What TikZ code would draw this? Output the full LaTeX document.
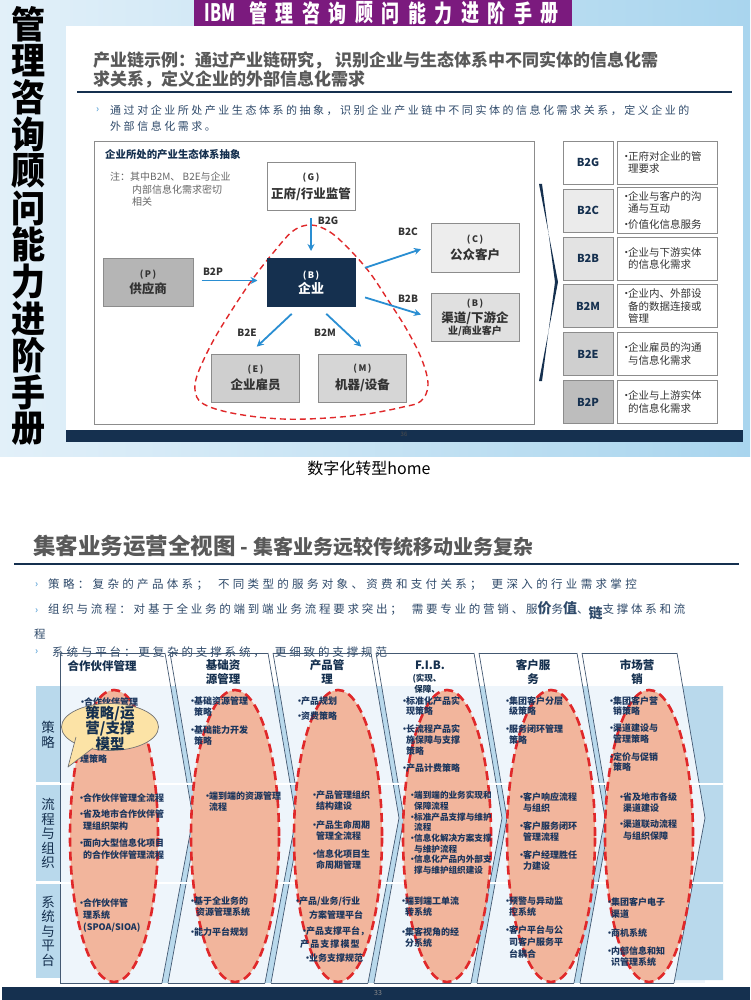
\documentclass[tikz,border=0pt]{standalone}
\usepackage{fontspec}
\setmainfont{Noto Sans CJK SC}
\usetikzlibrary{arrows.meta,shapes.geometric}

\definecolor{navy}{HTML}{15304F}
\definecolor{ibmpurple}{HTML}{7B1A7E}
\definecolor{arrblue}{HTML}{2A8ED2}
\definecolor{dashred}{HTML}{E0282A}
\definecolor{salmon}{HTML}{F2B59C}
\definecolor{bandblue}{HTML}{B9D9EC}
\definecolor{bodyblue}{HTML}{EEF5FB}
\definecolor{calloutyellow}{RGB}{252,227,166}
\definecolor{bgleft}{HTML}{E2F0F9}
\definecolor{bgright}{HTML}{A9D5EE}
\definecolor{ttlgrey}{HTML}{595959}
\definecolor{darktxt}{HTML}{333333}
\definecolor{boxline}{HTML}{8C8C8C}
\definecolor{bodytxt}{HTML}{1B365D}
\definecolor{noteblue}{HTML}{2F4A6A}
\definecolor{tickblue}{HTML}{3A90D0}

\newcommand\fsz[2]{\fontsize{#1}{#2}\selectfont}
\newcommand\bpt{\makebox[6pt][l]{·}}
\newcommand\tind{\hspace*{6pt}}
\newcommand\bul{\makebox[7pt][l]{•}}
\newcommand\dind{\hspace*{7pt}}

\begin{document}
\begin{tikzpicture}[x=1pt,y=-1pt,
  bigch/.style={font=\bfseries\fsz{37}{37},text=black,inner sep=0},
  bant/.style={font=\bfseries\fsz{20}{20},text=white,inner sep=0},
  ent/.style={draw=boxline,line width=1pt,minimum width=88pt,minimum height=48pt,align=center,inner sep=1pt,text=darktxt,font=\bfseries},
  arr/.style={draw=arrblue,line width=1.8pt,-{Stealth[length=7pt,width=7pt]},shorten <=10pt,shorten >=10pt},
  blab/.style={font=\bfseries\fsz{10}{11},text=darktxt,inner sep=0},
  redloop/.style={draw=dashred,line width=1.4pt,dash pattern=on 6pt off 4pt},
  bkey/.style={draw=boxline,line width=0.8pt,minimum width=50pt,minimum height=43pt,font=\bfseries\fsz{11}{12},text=navy,inner sep=0},
  bdesc/.style={draw=boxline,line width=0.8pt,fill=white,minimum width=100pt,minimum height=43pt,text width=92pt,inner sep=4pt,align=left,font=\fsz{10.5}{12.5},text=darktxt},
  sepline/.style={draw=navy!80,line width=0.7pt},
  lens/.style={fill=salmon,draw=dashred,line width=2.6pt,dash pattern=on 9pt off 5pt},
  itm/.style={anchor=north west,inner sep=0,align=left,font=\bfseries\fsz{9}{11},text=bodytxt},
  colh/.style={align=center,inner sep=0,font=\bfseries\fsz{11.5}{14},text=navy},
  rowh/.style={align=center,inner sep=0,font=\fsz{13.5}{14.5},text=navy},
  balloon/.style={solid,line width=0.7pt,draw=black!55,fill=calloutyellow},
  bubtxt/.style={align=center,inner sep=0,font=\bfseries\fsz{14.5}{15.5},text=navy},
  lead/.style={anchor=west,inner sep=0,text=noteblue}]
\useasboundingbox (0,0) rectangle (750,1000);
\fill[white] (0,0) rectangle (750,1000);

% upper page: handbook scan
\shade[left color=bgleft,right color=bgright] (0,0) rectangle (750,456);
\foreach \c [count=\i] in {管,理,咨,询,顾,问,能,力,进,阶,手,册}
  \node[bigch] (v\i) at (29,{24+(\i-1)*36.8}) {\scalebox{0.92}[1]{\c}};
\fill[ibmpurple] (194,0) rectangle (572,27);
\node[bant] (ibm) at (220,13) {\scalebox{0.8}[1.2]{IBM}};
\foreach \c [count=\i] in {管,理,咨,询,顾,问,能,力,进,阶,手,册}
  \node[bant] (bn\i) at ({258+(\i-1)*26.5},13) {\scalebox{0.9}[1.2]{\c}};
\fill[white] (66,26) rectangle (743,430);
\fill[navy] (66,430) rectangle (743,442);
\node[font=\fsz{6}{6},text=black!70,inner sep=0] (pg1) at (404,434) {36};

\node[anchor=west,inner sep=0,font=\bfseries\fsz{17}{17},text=ttlgrey] (ttl1) at (93,60) {产业链示例：通过产业链研究， 识别企业与生态体系中不同实体的信息化需};
\node[anchor=west,inner sep=0,font=\bfseries\fsz{17}{17},text=ttlgrey] (ttl2) at (93,79) {求关系，定义企业的外部信息化需求};
\draw[navy,line width=1.2pt] (77,92) -- (732,92);
\node[lead,text=tickblue,font=\fsz{10}{10}] (tk0) at (96,110) {›};
\node[lead,font=\fsz{11}{11}\addfontfeature{LetterSpace=23}] (ld1) at (110,110) {通过对企业所处产业生态体系的抽象，识别企业产业链中不同实体的信息化需求关系，定义企业的};
\node[lead,font=\fsz{11}{11}\addfontfeature{LetterSpace=23}] (ld2) at (110,126) {外部信息化需求。};

% ecosystem abstraction
\draw[boxline,line width=0.8pt] (94,141) rectangle (534,424);
\node[anchor=west,inner sep=0,font=\bfseries\fsz{10.4}{11},text=navy] (frt) at (105,155) {企业所处的产业生态体系抽象};
\node[anchor=north west,inner sep=0,align=left,font=\fsz{10}{12.5},text=black!60] (note) at (110,172)
  {注：其中B2M、 B2E与企业\\\hspace*{22pt}内部信息化需求密切\\\hspace*{22pt}相关};

\draw[redloop] plot[smooth cycle,tension=0.6] coordinates {(311,225) (330,232) (350,250) (370,273) (388,300) (407,330) (422,360) (428,385) (421,401) (403,407) (360,415) (307,419) (267,418) (227,412) (202,403) (195,390) (198,373) (212,343) (230,313) (252,280) (273,253) (293,231)};

\node[ent,fill=white] (g) at (311,187) {\fsz{9}{11}(\,G\,)\\[4pt]\fsz{12.5}{14}正府/行业监管};
\node[ent,fill=navy,draw=navy,text=white] (b) at (311,282.5) {\fsz{9}{11}(\,B\,)\\[1pt]\fsz{13}{14}企业};
\node[ent,fill=black!29,minimum width=90pt] (p) at (148,282.5) {\fsz{9}{11}(\,P\,)\\[3pt]\fsz{12.5}{14}供应商};
\node[ent,fill=black!7] (c) at (475,248) {\fsz{9}{11}(\,C\,)\\[4pt]\fsz{12.5}{14}公众客户};
\node[ent,fill=black!12] (rb) at (475,317.5) {\fsz{9}{11}(\,B\,)\\[3pt]\fsz{12.5}{13}渠道/下游企\\业/商业客户};
\node[ent,fill=black!19] (e) at (255.5,378) {\fsz{9}{11}(\,E\,)\\[4pt]\fsz{12.5}{14}企业雇员};
\node[ent,fill=black!16] (m) at (362.5,378) {\fsz{9}{11}(\,M\,)\\[4pt]\fsz{12.5}{14}机器/设备};

\draw[arr,shorten <=7pt,shorten >=7pt] (g) -- (b) node[blab,pos=0.2,right=6pt] (lg) {B2G};
\draw[arr,shorten <=8pt,shorten >=9pt] ([yshift=2pt]p.east) -- ([yshift=2pt]b.west);
\node[blab] (lp) at (213,272) {B2P};
\draw[arr] ([yshift=11.5pt]b.east) -- ([yshift=2pt]c.west);
\node[blab] (lc) at (408,232) {B2C};
\draw[arr] ([yshift=-12pt]b.east) -- (rb.west);
\node[blab] (lb) at (408,299) {B2B};
\draw[arr] ([xshift=-12pt]b.south) -- ([xshift=-6pt]e.north);
\node[blab] (le) at (247,333) {B2E};
\draw[arr] ([xshift=8pt]b.south) -- ([xshift=6pt]m.north);
\node[blab] (lm) at (325,333) {B2M};

% relation table
\fill[navy] (539,184) -- (558,282) -- (539,381) -- (542,381) -- (555,282) -- (542,184) -- cycle;
\foreach \k/\f/\d/\y [count=\i] in {
  B2G/white/{\bul 正府对企业的管\\\dind 理要求}/162.5,
  B2C/black!8/{\bul 企业与客户的沟\\\dind 通与互动\\[3pt]\bul 价值化信息服务}/210.5,
  B2B/black!11/{\bul 企业与下游实体\\\dind 的信息化需求}/258.5,
  B2M/black!15/{\bul 企业内、外部设\\\dind 备的数据连接或\\\dind 管理}/306,
  B2E/black!19/{\bul 企业雇员的沟通\\\dind 与信息化需求}/354,
  B2P/black!26/{\bul 企业与上游实体\\\dind 的信息化需求}/402} {
  \node[bkey,fill=\f] (k\i) at (588,\y) {\k};
  \node[bdesc] (d\i) at (667,\y) {\d};
}

\node[font=\fsz{16}{16},inner sep=0] (cap) at (369,468) {数字化转型home};

% lower page: operations overview
\node[anchor=west,inner sep=0,font=\bfseries,text=ttlgrey] (ttl3) at (33,546) {\fsz{22.5}{24}集客业务运营全视图 \fsz{20}{20}- 集客业务远较传统移动业务复杂};
\draw[navy,line width=1.2pt] (14,564) -- (739,564);
\node[lead,text=tickblue,font=\fsz{10}{10}] (tk1) at (35,585) {›};
\node[lead,font=\fsz{11.5}{12}\addfontfeature{LetterSpace=29}] (ln1) at (48,585) {策略：复杂的产品体系；\hspace{10pt}不同类型的服务对象、资费和支付关系；\hspace{10pt}更深入的行业需求掌控};
\node[lead,text=tickblue,font=\fsz{10}{10}] (tk2) at (35,611) {›};
\node[lead,font=\fsz{11.5}{12}\addfontfeature{LetterSpace=24}] (ln2) at (48,611) {组织与流程：对基于全业务的端到端业务流程要求突出；\hspace{10pt}需要专业的营销、服{\bfseries\fsz{14}{14}价}务{\bfseries\fsz{14}{14}值}、\raisebox{-5pt}{\bfseries\fsz{14}{14}链}支撑体系和流};
\node[lead,font=\fsz{11.5}{12}] (ln2b) at (34,634) {程};
\node[lead,text=tickblue,font=\fsz{10}{10}] (tk3) at (35,652) {›};
\node[lead,font=\fsz{11.5}{12}\addfontfeature{LetterSpace=25}] (ln3) at (52,652) {系统与平台：更复杂的支撑系统，\hspace{10pt}更细致的支撑规范};

% table body
\fill[bodyblue] (60,686) rectangle (705,983);
\fill[bandblue] (36,686) rectangle (60,782);
\fill[bandblue] (36,785) rectangle (60,881);
\fill[bandblue] (36,884) rectangle (60,978);
\foreach \t in {165,268,371,474,577} {
  \begin{scope}
    \clip (0,686) rectangle (750,983);
    \fill[bandblue] (\t,653) -- ({\t+28},818) -- ({\t-3},983) -- ({\t+3},983) -- ({\t+33},818) -- ({\t+5},653) -- cycle;
  \end{scope}
  \draw[sepline] (\t,653) -- ({\t+28},818) -- ({\t-3},983);
  \draw[sepline] ({\t+5},653) -- ({\t+33},818) -- ({\t+3},983);
}
\fill[bandblue] (682.6,686) -- (705,818) -- (674.5,980) -- (723,980) -- (723,686) -- cycle;
\draw[sepline] (677,653) -- (705,818) -- (674,983);
\draw[sepline] (60,653) -- (60,983);
\foreach \a/\b in {60/165,170/268,273/371,376/474,479/577,582/677}
  \draw[sepline] (\a,653) -- (\b,653);
\foreach \a/\b in {60/162,168/265,271/368,374/471,477/574,580/674}
  \draw[sepline] (\a,983) -- (\b,983);
\draw[white,line width=2pt] (36,783.5) -- (723,783.5);
\draw[white,line width=2pt] (36,882.5) -- (723,882.5);

\foreach \cx in {114,235,338,447,551,649}
  \draw[lens] (\cx,836) ellipse [x radius=44pt,y radius=146pt];

\node[rowh] (r1) at (48,735) {策\\略};
\node[rowh] (r2) at (48,833.5) {流\\程\\与\\组\\织};
\node[rowh] (r3) at (48,931) {系\\统\\与\\平\\台};

\node[colh] (h1) at (102,666) {合作伙伴管理};
\node[colh] (h2) at (223,672) {基础资\\源管理};
\node[colh] (h3) at (327,672) {产品管\\理};
\node[colh] (h4) at (430,665) {F.I.B.};
\node[colh,font=\bfseries\fsz{8.5}{10.5}] (h4b) at (427,683.5) {(实现、\\保障、};
\node[colh] (h5) at (533,672) {客户服\\务};
\node[colh] (h6) at (637,672) {市场营\\销};

% column 1
\node[itm] (s1a) at (78,698) {\bpt 合作伙伴管理};
\node[itm] (s1b) at (80,755) {理策略};
\node[itm] (p1a) at (77,794) {\bpt 合作伙伴管理全流程};
\node[itm,font=\bfseries\fsz{9}{12.5}] (p1b) at (77,809) {\bpt 省及地市合作伙伴管\\\tind 理组织架构};
\node[itm,font=\bfseries\fsz{9}{12.5}] (p1c) at (77,838) {\bpt 面向大型信息化项目\\\tind 的合作伙伴管理流程};
\node[itm,font=\bfseries\fsz{9}{12}] (y1a) at (77,899) {\bpt 合作伙伴管\\\tind 理系统\\\tind (SPOA/SIOA)};
% column 2
\node[itm] (s2a) at (188,697) {\bpt 基础资源管理\\\tind 策略};
\node[itm] (s2b) at (188,726) {\bpt 基础能力开发\\\tind 策略};
\node[itm] (p2a) at (203,792) {\bpt 端到端的资源管理\\\tind 流程};
\node[itm] (y2a) at (188,897) {\bpt 基于全业务的\\\tind\hspace*{2pt}资源管理系统};
\node[itm] (y2b) at (188,927) {\bpt 能力平台规划};
% column 3
\node[itm] (s3a) at (295,697) {\bpt 产品规划};
\node[itm] (s3b) at (295,712) {\bpt 资费策略};
\node[itm] (p3a) at (310,791) {\bpt 产品管理组织\\\tind 结构建设};
\node[itm] (p3b) at (310,820) {\bpt 产品生命周期\\\tind 管理全流程};
\node[itm] (p3c) at (310,849) {\bpt 信息化项目生\\\tind 命周期管理};
\node[itm,font=\bfseries\fsz{9}{14}] (y3a) at (293,897) {\bpt 产品/业务/行业\\\hspace*{16pt}方案管理平台};
\node[itm,font=\bfseries\fsz{9}{13.5}] (y3b) at (300,926) {\bpt 产品支撑平台，\\{\addfontfeature{LetterSpace=12}产品支撑模型}};
\node[itm] (y3c) at (303,954) {\bpt 业务支撑规范};
% column 4
\node[itm,font=\bfseries\fsz{9}{10.5}] (s4a) at (400,696) {\bpt 标准化产品实\\\tind 现策略};
\node[itm,font=\bfseries\fsz{9}{11}] (s4b) at (400,724) {\bpt 长流程产品实\\\tind 施保障与支撑\\\tind 策略};
\node[itm] (s4c) at (400,764) {\bpt 产品计费策略};
\node[itm,font=\bfseries\fsz{8.6}{10.7}] (p4a) at (408,791) {\bpt 端到端的业务实现和\\\tind 保障流程\\\bpt 标准产品支撑与维护\\\tind 流程\\\bpt 信息化解决方案支撑\\\tind 与维护流程\\\bpt 信息化产品内外部支\\\tind 撑与维护组织建设};
\node[itm] (y4a) at (399,897) {\bpt 端到端工单流\\\tind 转系统};
\node[itm] (y4b) at (399,927) {\bpt 集客视角的经\\\tind 分系统};
% column 5
\node[itm,font=\bfseries\fsz{9}{10.5}] (s5a) at (503,696) {\bpt 集团客户分层\\\tind 级策略};
\node[itm,font=\bfseries\fsz{9}{10.5}] (s5b) at (503,725) {\bpt 服务闭环管理\\\tind 策略};
\node[itm] (p5a) at (517,792) {\bpt 客户响应流程\\\tind 与组织};
\node[itm] (p5b) at (517,821) {\bpt 客户服务闭环\\\tind 管理流程};
\node[itm] (p5c) at (517,850) {\bpt 客户经理胜任\\\tind 力建设};
\node[itm] (y5a) at (503,897) {\bpt 预警与异动监\\\tind 控系统};
\node[itm,font=\bfseries\fsz{9}{12}] (y5b) at (503,925) {\bpt 客户平台与公\\\tind 司客户服务平\\\tind 台耦合};
% column 6
\node[itm,font=\bfseries\fsz{9}{10.5}] (s6a) at (607,696) {\bpt 集团客户营\\\tind 销策略};
\node[itm,font=\bfseries\fsz{9}{10.5}] (s6b) at (607,724) {\bpt 渠道建设与\\\tind 管理策略};
\node[itm,font=\bfseries\fsz{9}{10.5}] (s6c) at (607,752) {\bpt 定价与促销\\\tind 策略};
\node[itm] (p6a) at (617,792) {\bpt 省及地市各级\\\tind 渠道建设};
\node[itm,font=\bfseries\fsz{9}{12}] (p6b) at (617,820) {\bpt 渠道联动流程\\\tind 与组织保障};
\node[itm,font=\bfseries\fsz{9}{12}] (y6a) at (605,897) {\bpt 集团客户电子\\\tind 渠道};
\node[itm] (y6b) at (605,928) {\bpt 商机系统};
\node[itm] (y6c) at (605,946) {\bpt 内部信息和知\\\tind 识管理系统};

% speech balloon
\filldraw[balloon] (110,727) ellipse [x radius=48.5pt,y radius=23.5pt];
\filldraw[balloon,line join=round] (76,737) -- (68,767) -- (93,748);
\fill[calloutyellow] (77.5,736) -- (70.5,760) -- (91.5,747) -- cycle;
\node[bubtxt] (bubt) at (110,728) {策略/运\\营/支撑\\模型};

\fill[navy] (2,987) rectangle (750,1000);
\node[font=\fsz{7}{7},text=black!45,inner sep=0] (pg2) at (378,993) {33};
\end{tikzpicture}
\end{document}
